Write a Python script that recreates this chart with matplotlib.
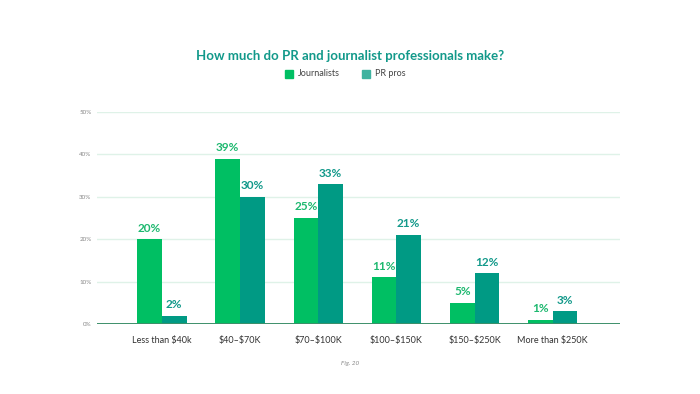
import numpy as np
import matplotlib.pyplot as plt

plt.rcParams['font.family'] = ['Lato', 'DejaVu Sans']

# data
categories = ["Less than \\$40k", "\\$40–\\$70K", "\\$70–\\$100K", "\\$100–\\$150K",
              "\\$150–\\$250K", "More than \\$250K"]
journalists = [20, 39, 25, 11, 5, 1]
pr_pros = [2, 30, 33, 21, 12, 3]
y_ticks = [0, 10, 20, 30, 40, 50]

green = '#00bf63'
teal = '#009a84'
green_txt = '#1db86f'
teal_txt = '#12998a'

fig = plt.figure(figsize=(7, 3.94), dpi=100)
ax = fig.add_axes([0.1386, 0.1777, 0.7471, 0.538])

x = np.arange(len(categories))
w = 0.315

ax.bar(x - w / 2, journalists, w, color=green, zorder=3)
ax.bar(x + w / 2, pr_pros, w, color=teal, zorder=3)

for xi, v in zip(x, journalists):
    ax.text(xi - w / 2, v + 1.3, f"{v}%", ha='center', va='bottom',
            fontsize=8.5, fontweight='bold', color=green_txt)
for xi, v in zip(x, pr_pros):
    ax.text(xi + w / 2, v + 1.3, f"{v}%", ha='center', va='bottom',
            fontsize=8.5, fontweight='bold', color=teal_txt)

ax.set_xlim(-0.83, 5.86)
ax.set_ylim(0, 50)
ax.set_yticks(y_ticks)
ax.set_yticklabels([f"{t}%" for t in y_ticks], fontsize=4.5, color='#888888')
ax.set_xticks(x)
ax.set_xticklabels(categories, fontsize=6.5, color='#333333')
ax.tick_params(axis='both', length=0)
ax.tick_params(axis='x', pad=9)
ax.tick_params(axis='y', pad=4)

for t in y_ticks[1:]:
    ax.axhline(t, color='#dff2e8', lw=1, zorder=1)
ax.axhline(0, color='#3d8f6a', lw=1.4, zorder=4)

for s in ax.spines.values():
    s.set_visible(False)

fig.text(0.5, 1 - 56 / 394, "How much do PR and journalist professionals make?",
         ha='center', va='center', fontsize=9.5, fontweight='bold', color=teal_txt)

# legend
fig.patches.append(plt.Rectangle((285 / 700, 1 - 78 / 394), 8 / 700, 8 / 394,
                                 transform=fig.transFigure, color=green))
fig.text(298 / 700, 1 - 74 / 394, "Journalists", fontsize=6.5, color='#444444', va='center')
fig.patches.append(plt.Rectangle((362 / 700, 1 - 78 / 394), 8 / 700, 8 / 394,
                                 transform=fig.transFigure, color='#3fb3a0'))
fig.text(375 / 700, 1 - 74 / 394, "PR pros", fontsize=6.5, color='#444444', va='center')

fig.text(0.5, 1 - 364 / 394, "Fig. 20", ha='center', va='center',
         fontsize=4.5, style='italic', color='#888888')

fig.savefig("out.png", dpi=100, facecolor='white')
